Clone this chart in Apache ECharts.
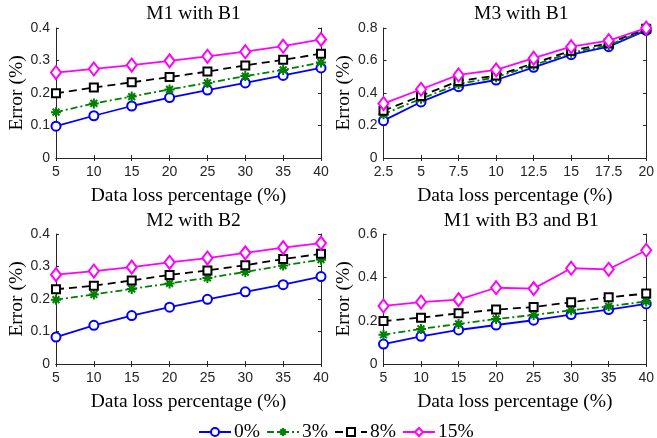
<!DOCTYPE html>
<html>
<head>
<meta charset="utf-8">
<script src="https://cdn.jsdelivr.net/npm/echarts@6/dist/echarts.min.js"></script>
<style>html,body{margin:0;padding:0;background:#fff}#c{width:657px;height:438px}</style>
</head>
<body>
<div id="c"></div>
<script>
// ---- data ----
const seriesNames = ['0%', '3%', '8%', '15%'];
const titles = ['M1 with B1', 'M3 with B1', 'M2 with B2', 'M1 with B3 and B1'];
const xCats1 = [5, 10, 15, 20, 25, 30, 35, 40];
const xCats2 = [2.5, 5, 7.5, 10, 12.5, 15, 17.5, 20];
const xCats3 = [5, 10, 15, 20, 25, 30, 35, 40];
const xCats4 = [5, 10, 15, 20, 25, 30, 35, 40];

// Panel 1: M1 with B1
const p1_0  = [0.098, 0.130, 0.160, 0.186, 0.209, 0.231, 0.254, 0.277];
const p1_3  = [0.141, 0.168, 0.189, 0.211, 0.231, 0.252, 0.271, 0.294];
const p1_8  = [0.199, 0.217, 0.233, 0.249, 0.266, 0.285, 0.302, 0.321];
const p1_15 = [0.263, 0.274, 0.286, 0.299, 0.313, 0.327, 0.344, 0.365];
// Panel 2: M3 with B1
const p2_0  = [0.230, 0.345, 0.439, 0.480, 0.558, 0.636, 0.685, 0.785];
const p2_3  = [0.270, 0.365, 0.455, 0.497, 0.572, 0.648, 0.694, 0.790];
const p2_8  = [0.291, 0.382, 0.474, 0.507, 0.583, 0.660, 0.706, 0.795];
const p2_15 = [0.335, 0.423, 0.511, 0.542, 0.614, 0.685, 0.722, 0.800];
// Panel 3: M2 with B2
const p3_0  = [0.083, 0.119, 0.149, 0.175, 0.199, 0.222, 0.244, 0.269];
const p3_3  = [0.198, 0.214, 0.231, 0.248, 0.265, 0.283, 0.303, 0.321];
const p3_8  = [0.230, 0.241, 0.257, 0.274, 0.288, 0.304, 0.323, 0.339];
const p3_15 = [0.275, 0.286, 0.298, 0.313, 0.326, 0.342, 0.358, 0.372];
// Panel 4: M1 with B3 and B1
const p4_0  = [0.092, 0.128, 0.157, 0.180, 0.202, 0.228, 0.251, 0.277];
const p4_3  = [0.135, 0.162, 0.185, 0.208, 0.226, 0.248, 0.266, 0.289];
const p4_8  = [0.198, 0.214, 0.234, 0.251, 0.263, 0.285, 0.308, 0.325];
const p4_15 = [0.268, 0.286, 0.297, 0.352, 0.348, 0.442, 0.437, 0.525];

const yMax = [0.4, 0.8, 0.4, 0.6];
const yStep = [0.1, 0.2, 0.1, 0.2];
const xMin = [5, 2.5, 5, 5];
const xMax = [40, 20, 40, 40];
const xStep = [5, 2.5, 5, 5];

// ---- chart ----
const panels = [
  {x: xCats1, ys: [p1_0, p1_3, p1_8, p1_15]},
  {x: xCats2, ys: [p2_0, p2_3, p2_8, p2_15]},
  {x: xCats3, ys: [p3_0, p3_3, p3_8, p3_15]},
  {x: xCats4, ys: [p4_0, p4_3, p4_8, p4_15]}
];
const gridPos = [
  {left: 56, top: 28, width: 265, height: 130},
  {left: 383.5, top: 28, width: 265.5, height: 130},
  {left: 56, top: 234, width: 265, height: 130},
  {left: 383.5, top: 234, width: 265.5, height: 130}
];
const frame = '#262626';
const serif = '"Liberation Serif", "Times New Roman", serif';
const sans = '"Liberation Sans", Arial, sans-serif';
const asterisk = 'path://M0,5L10,5M5,0L5,10M1.6,1.6L8.4,8.4M8.4,1.6L1.6,8.4';
const styles = [
  {color: '#0000FF', type: 'solid', symbol: 'emptyCircle', size: 9, bw: 1.6},
  {color: '#008000', type: [7, 3, 2, 3], symbol: asterisk, size: 10, bw: 2},
  {color: '#000000', type: [8, 5], symbol: 'emptyRect', size: 8, bw: 1.6},
  {color: '#FF00FF', type: 'solid', symbol: 'emptyDiamond', size: [10, 13], bw: 1.6}
];

const grid = [], xAxis = [], yAxis = [], series = [], title = [];
panels.forEach((p, i) => {
  grid.push(Object.assign({containLabel: false}, gridPos[i]));
  title.push({
    text: titles[i],
    left: gridPos[i].left + gridPos[i].width / 2,
    top: i < 2 ? -1 : 206,
    textAlign: 'center',
    textStyle: {fontFamily: serif, fontSize: 19.5, fontWeight: 'normal', color: '#000'}
  });
  const axLine = {show: true, lineStyle: {color: frame, width: 1}};
  const tick = {show: true, inside: true, length: 3, lineStyle: {color: frame}};
  xAxis.push({
    type: 'value', gridIndex: i, position: 'bottom',
    min: xMin[i], max: xMax[i], interval: xStep[i],
    axisLine: axLine, axisTick: tick, splitLine: {show: false},
    axisLabel: {color: frame, fontFamily: sans, fontSize: 14, margin: 7},
    name: 'Data loss percentage (%)', nameLocation: 'middle', nameGap: 28,
    nameTextStyle: {fontFamily: serif, fontSize: 19.5, color: '#000'}
  });
  xAxis.push({
    type: 'value', gridIndex: i, position: 'top',
    min: xMin[i], max: xMax[i], interval: xStep[i],
    axisLine: axLine, axisTick: tick, splitLine: {show: false},
    axisLabel: {show: false}
  });
  yAxis.push({
    type: 'value', gridIndex: i, position: 'left',
    min: 0, max: yMax[i], interval: yStep[i],
    axisLine: axLine, axisTick: tick, splitLine: {show: false},
    axisLabel: {color: frame, fontFamily: sans, fontSize: 14, margin: 6},
    name: 'Error (%)', nameLocation: 'middle', nameGap: 29, nameRotate: 90,
    nameTextStyle: {fontFamily: serif, fontSize: 19.5, color: '#000'}
  });
  yAxis.push({
    type: 'value', gridIndex: i, position: 'right',
    min: 0, max: yMax[i], interval: yStep[i],
    axisLine: axLine, axisTick: tick, splitLine: {show: false},
    axisLabel: {show: false}
  });
  p.ys.forEach((ys, k) => {
    const s = styles[k];
    series.push({
      name: seriesNames[k], type: 'line',
      xAxisIndex: i * 2, yAxisIndex: i * 2,
      data: p.x.map((xv, j) => [xv, ys[j]]),
      symbol: s.symbol, symbolSize: s.size, showAllSymbol: true,
      lineStyle: {color: s.color, width: 1.8, type: s.type},
      itemStyle: {color: s.color, borderColor: s.color, borderWidth: s.bw},
      z: 2 + k, animation: false
    });
  });
});

const chart = echarts.init(document.getElementById('c'), null, {renderer: 'canvas'});
chart.setOption({
  backgroundColor: '#fff',
  animation: false,
  title: title,
  grid: grid,
  xAxis: xAxis,
  yAxis: yAxis,
  legend: {
    data: seriesNames, left: 193, top: 417,
    itemWidth: 32, itemHeight: 10, itemGap: 6,
    textStyle: {fontFamily: serif, fontSize: 19.5, color: '#000', padding: [0, 0, 0, -2]}
  },
  series: series
});
</script>
</body>
</html>
